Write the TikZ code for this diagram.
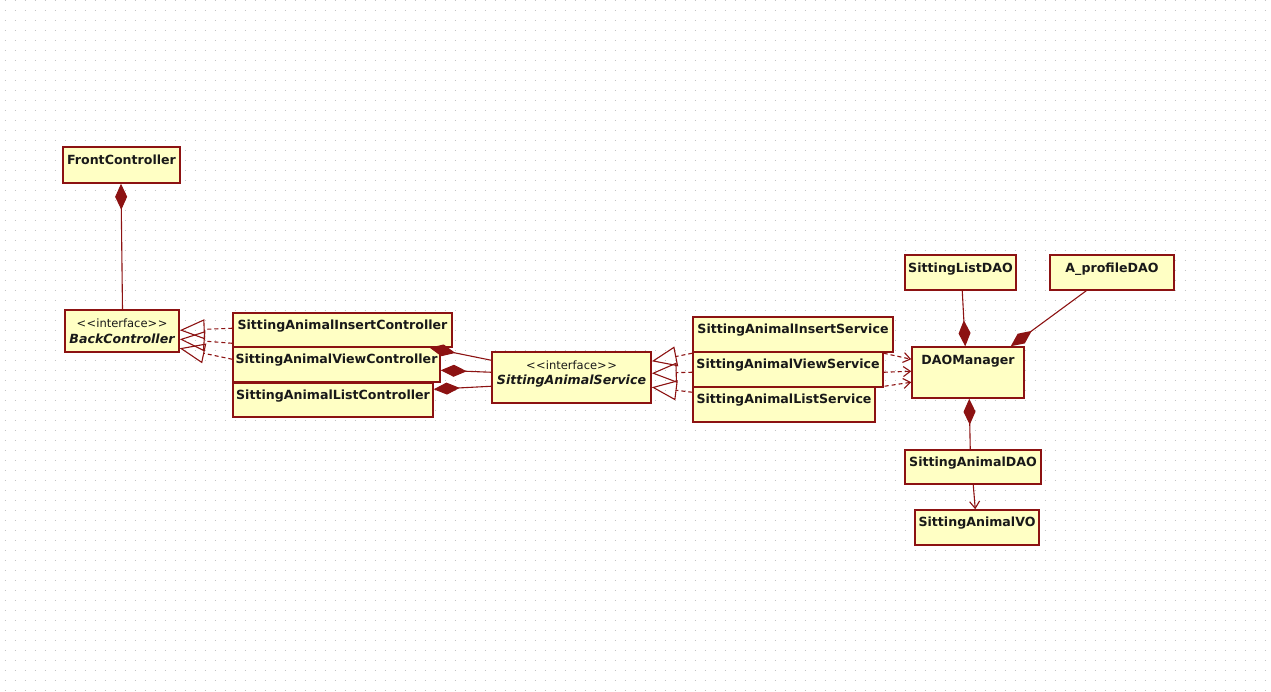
\documentclass[tikz,border=0pt]{standalone}
\usepackage{fontspec}
\setmainfont{DejaVu Sans}
\usetikzlibrary{arrows.meta,fit,calc}
\definecolor{umlred}{RGB}{140,18,18}
\definecolor{umlfill}{RGB}{255,255,196}
\definecolor{dotc}{RGB}{196,196,196}
\newcommand\stereoint{\char"3C\kern0.5pt\char"3C interface\char"3E\kern0.5pt\char"3E}
\begin{document}
\begin{tikzpicture}[x=1pt,y=-1pt,
 box/.style={draw=umlred, fill=umlfill, line width=1.5pt, inner sep=0pt, rectangle},
 lbl/.style={font=\fontsize{12.6}{14}\selectfont\bfseries, text=black!90, inner sep=0pt},
 ilbl/.style={font=\fontsize{12.6}{14}\selectfont\bfseries\itshape, text=black!90, inner sep=0pt},
 ster/.style={font=\fontsize{11.5}{13}\selectfont, text=black!90, inner sep=0pt},
 conn/.style={draw=umlred, line width=1.1pt},
 comp/.style={conn, {Diamond[length=26pt,width=12pt,fill=umlred]}-},
 real/.style={conn, dash pattern=on 4pt off 3pt, -{Triangle[open,length=25pt,width=20pt]}},
 dep/.style={conn, dash pattern=on 4pt off 3pt, -{Straight Barb[length=7pt,width=10pt]}},
 assoc/.style={conn, -{Straight Barb[length=7pt,width=10pt]}},
 dotline/.style={draw=dotc, line width=1pt, dash pattern=on 1pt off 9pt}
]
\useasboundingbox (0,0) rectangle (1271,691);
\fill[white] (0,0) rectangle (1271,691);
\foreach \yy in {0,10,...,690} \draw[dotline] (4.5,\yy) -- (1271,\yy);

% boxes
\node[box, fit={(63,147) (180,183)}] (front) {};
\node[lbl] (frontT) at ([yshift=-14pt]front.north) {FrontController};
\node[box, fit={(65,310) (179,352)}] (back) {};
\node[ster] (backS) at ([yshift=-13.5pt]back.north) {\stereoint};
\node[ilbl] (backT) at ([yshift=-30pt]back.north) {BackController};

\node[box, fit={(233,313) (452,347)}] (ins) {};
\node[lbl] (insT) at ([yshift=-13.5pt]ins.north) {SittingAnimalInsertController};
\node[box, fit={(233,347) (440,382)}] (view) {};
\node[lbl] (viewT) at ([yshift=-14pt]view.north) {SittingAnimalViewController};
\node[box, fit={(233,383) (433,417)}] (list) {};
\node[lbl] (listT) at ([yshift=-13.5pt]list.north) {SittingAnimalListController};

\node[box, fit={(492,352) (651,403)}] (svc) {};
\node[ster] (svcS) at ([yshift=-14pt]svc.north) {\stereoint};
\node[ilbl] (svcT) at ([yshift=-29.7pt]svc.north) {SittingAnimalService};

\node[box, fit={(693,317) (893,352)}] (sins) {};
\node[lbl] (sinsT) at ([yshift=-14pt]sins.north) {SittingAnimalInsertService};
\node[box, fit={(693,352) (883,387)}] (sview) {};
\node[lbl] (sviewT) at ([yshift=-14pt]sview.north) {SittingAnimalViewService};
\node[box, fit={(693,387) (875,422)}] (slist) {};
\node[lbl] (slistT) at ([yshift=-14pt]slist.north) {SittingAnimalListService};

\node[box, fit={(912,347) (1024,398)}] (dao) {};
\node[lbl] (daoT) at ([yshift=-14.5pt]dao.north) {DAOManager};
\node[box, fit={(905,255) (1016,290)}] (sldao) {};
\node[lbl] (sldaoT) at ([yshift=-14.5pt]sldao.north) {SittingListDAO};
\node[box, fit={(1050,255) (1174,290)}] (apdao) {};
\node[lbl] (apdaoT) at ([yshift=-14.5pt]apdao.north) {A\_profileDAO};
\node[box, fit={(905,450) (1041,484)}] (sadao) {};
\node[lbl] (sadaoT) at ([yshift=-14pt]sadao.north) {SittingAnimalDAO};
\node[box, fit={(915,510) (1039,545)}] (savo) {};
\node[lbl] (savoT) at ([yshift=-14pt]savo.north) {SittingAnimalVO};

% composition
\draw[comp] ([xshift=-0.5pt]front.south) -- ([xshift=0.5pt]back.north);
\draw[comp] ($(ins.south east)+(-23,0)$) -- ($(svc.north west)+(0,9)$);
\draw[comp] ($(view.north east)+(0,24)$) -- ($(svc.north west)+(0,21)$);
\draw[comp] ($(list.north east)+(0,7)$) -- ($(svc.north west)+(0,35)$);
\draw[comp] ($(dao.north west)+(54,0)$) -- ($(sldao.south west)+(58,0)$);
\draw[comp] ($(dao.north east)+(-14,0)$) -- ($(apdao.south west)+(37,0)$);
\draw[comp] ($(dao.south west)+(58,0)$) -- ($(sadao.north west)+(66,0)$);

% realization
\draw[real] ($(ins.north west)+(0,16)$) -- ($(back.north east)+(0,21)$);
\draw[real] ($(view.north west)+(0,-3)$) -- ($(back.north east)+(0,30)$);
\draw[real] ($(view.north west)+(0,13)$) -- ($(back.north east)+(0,39)$);
\draw[real] ($(sins.north west)+(0,37)$) -- ($(svc.north east)+(0,10)$);
\draw[real] ($(sview.north west)+(0,21)$) -- ($(svc.north east)+(0,22)$);
\draw[real] ($(slist.north west)+(0,6)$) -- ($(svc.north east)+(0,36)$);

% dependency
\draw[dep] ($(sview.north east)+(0,2)$) -- ($(dao.north west)+(0,13)$);
\draw[dep] ($(sview.north east)+(0,21)$) -- ($(dao.north west)+(0,25)$);
\draw[dep] ($(slist.north east)+(2,1)$) -- ($(dao.north west)+(0,36)$);
\draw[assoc] ($(sadao.south west)+(69,0)$) -- ($(savo.north west)+(61,0)$);
\end{tikzpicture}
\end{document}
